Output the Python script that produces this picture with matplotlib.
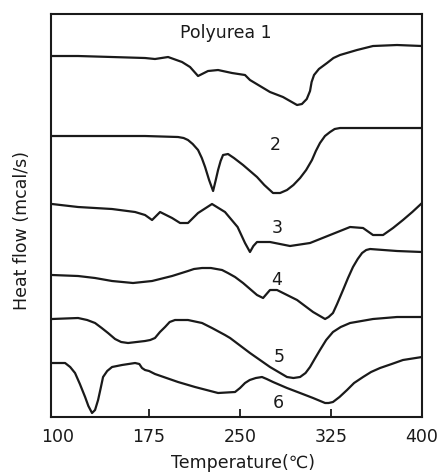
import matplotlib
matplotlib.use("Agg")
from matplotlib import pyplot as plt
import numpy as np

# DSC traces: temperature (C) and trace height (arbitrary, offset per sample)
t1 = [95, 116.5, 144.5, 171.7, 179.9, 190.7, 202.2, 208.8, 215.4, 223.6, 231.9, 243.4, 254.1, 258.2,
      274.7, 285.4, 297, 301, 305, 307.7, 309, 311, 315, 321.7, 327, 332.4, 346.4, 359.6, 379.4, 400]
h1 = [361, 361, 360, 359, 358, 360, 355, 350, 341, 346, 347, 344, 342, 337,
      325, 320, 312, 313, 318, 326, 335, 342, 348, 354, 359, 362, 367, 371, 372, 371]

t2 = [95, 116.5, 144.5, 171.7, 198.9, 203.5, 207.1, 211, 215.4, 218.5, 221.2, 224.5, 227.8, 230,
      231.9, 234, 236, 240.1, 245, 252.5, 264, 270, 277.2, 283, 288.7, 294, 299.5, 304.5, 309.3,
      312.5, 315.9, 320, 324.2, 328, 332.4, 365.4, 400]
h2 = [281, 281, 281, 281, 280, 279, 277, 273, 267, 259, 250, 237, 226, 237,
      247, 256, 262, 263, 259, 252, 240, 232, 224, 224, 227, 232, 239, 247, 257,
      266, 274, 281, 285, 288, 289, 289, 289]

t3 = [95, 116.5, 144.5, 163.5, 171.7, 177.5, 184.1, 194, 200.6, 207.1, 215.4, 226.9, 237.6, 248,
      254.1, 258.2, 261, 264, 274.7, 291.2, 307.7, 324.2, 340.7, 351.4, 359.6, 367.9, 376.1, 384.3,
      392, 400]
h3 = [213, 210, 208, 205, 202, 197, 205, 199, 194, 194, 204, 213, 205, 190,
      174, 165, 171, 175, 175, 171, 174, 182, 190, 189, 182, 182, 189, 197,
      205, 214]

t4 = [95, 116.5, 130.5, 144.5, 161.8, 177.5, 194, 207.1, 212, 218.7, 226, 235.2, 240, 245.9,
      252.5, 264, 269, 274.7, 280.5, 297, 310.2, 320.1, 323, 326.6, 330, 334.9, 339, 343.1, 347,
      350.6, 354, 357.2, 379.4, 400]
h4 = [142, 141, 139, 136, 134, 136, 141, 146, 148, 149, 149, 147, 144, 140,
      134, 122, 119, 127, 127, 117, 105, 98, 100, 104, 113, 127, 139, 150, 158,
      164, 167, 168, 166, 165]

t5 = [95, 116.5, 124, 130.5, 136, 141.2, 147, 152, 157.7, 171.7, 176, 179.9, 184, 188.2,
      192, 196.4, 207.1, 218.7, 226.9, 237.6, 241.8, 258.2, 274.7, 288.7, 294, 299.5, 304, 307.7,
      311.5, 315.9, 321, 326.6, 333, 340.7, 359.6, 379.4, 400]
h5 = [98, 99, 97, 94, 89, 84, 78, 75, 74, 76, 77, 79, 85, 90,
      95, 97, 97, 94, 89, 82, 79, 64, 50, 40, 39, 40, 44, 50,
      58, 67, 77, 85, 90, 94, 98, 100, 100]

t6 = [95, 105.8, 110, 114, 118, 122.3, 125, 128, 130.5, 133, 135, 137.1, 140.5, 144.5,
      152.7, 163.5, 167, 169.2, 171.7, 175, 179.9, 198.9, 212.9, 231.9, 245.9, 250, 254.1, 258,
      263, 268.1, 272, 277.2, 288.7, 299.5, 310.2, 320.1, 323, 326.6, 332, 338.2, 344, 351.4,
      358, 365.4, 375, 384.3, 400]
h6 = [54, 54, 50, 44, 33, 20, 11, 4, 7, 17, 28, 40, 46, 50,
      52, 54, 53, 49, 47, 46, 43, 35, 30, 24, 25, 29, 34, 37,
      39, 40, 38, 35, 29, 24, 19, 14, 14, 15, 20, 27, 34, 40,
      45, 49, 53, 57, 60]

labels = ['Polyurea 1', '2', '3', '4', '5', '6']
label_t = [238.5, 278.9, 280.5, 280.5, 282.1, 281.3]
label_h = [384, 272, 189, 137, 60, 14]

xticks = [100, 175, 250, 325, 400]

ink = '#1a1a1a'
fig = plt.figure(figsize=(4.39, 4.75), dpi=100)
ax = fig.add_axes([0.1173, 0.1221, 0.844, 0.8484])

for tt, hh in [(t1, h1), (t2, h2), (t3, h3), (t4, h4), (t5, h5), (t6, h6)]:
    ax.plot(tt, hh, color=ink, lw=1.6, solid_joinstyle='round', solid_capstyle='round')

for lab, tx, hy in zip(labels, label_t, label_h):
    ax.text(tx, hy, lab, ha='center', va='center', fontsize=12.5, color=ink)

ax.set_xlim(94.6, 400)
ax.set_ylim(0, 403)
for s in ax.spines.values():
    s.set_linewidth(1.5)
    s.set_color(ink)

ax.set_xticks(xticks)
ax.set_xticklabels([str(v) for v in xticks], fontsize=12.5, color=ink)
ax.tick_params(axis='x', direction='in', length=6, width=1.3, pad=8, color=ink)
ticks = ax.xaxis.get_major_ticks()
ticks[0].tick1line.set_visible(False)
ticks[-1].tick1line.set_visible(False)
ax.set_yticks([])

fig.text(243/439, 1 - 463/475, 'Temperature(\u2103)', ha='center', va='center', fontsize=12.5, color=ink)
fig.text(22/439, 1 - 230/475, 'Heat flow (mcal/s)', ha='center', va='center', rotation=90,
         fontsize=12.5, color=ink)

fig.savefig('out.png', dpi=100)
